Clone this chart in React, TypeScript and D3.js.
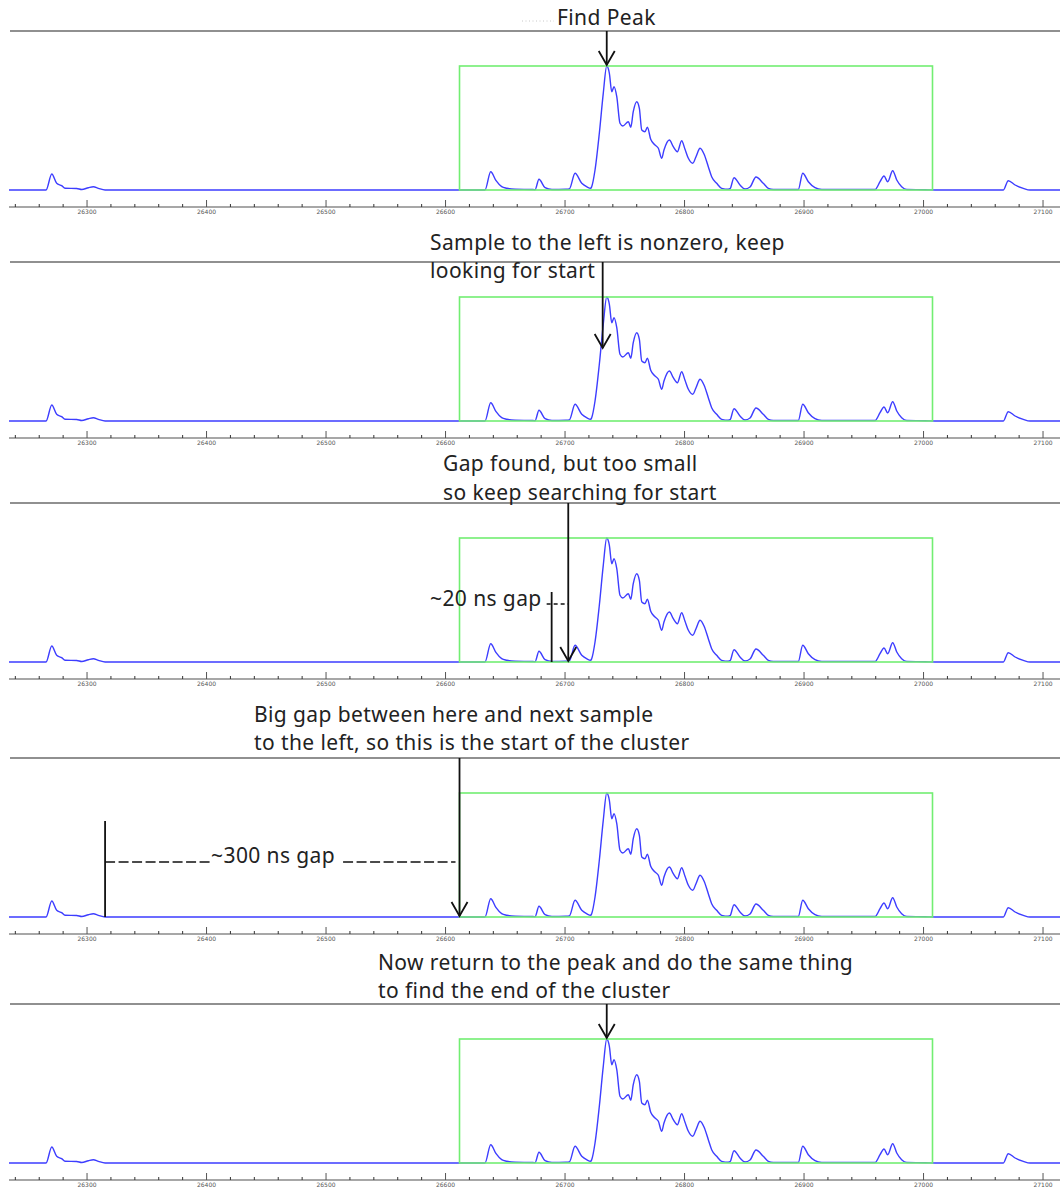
import React from "react";
import * as d3 from "d3";

// Digitised waveform: sample time (ns) and amplitude (ADC units above baseline)
const timeNs = [
  26234.7, 26265.7, 26270.5, 26274.6, 26278.8, 26281.6, 26291.4, 26295.6, 26301.1, 26305.3,
  26309.5, 26315.1, 26633.0, 26637.8, 26642.3, 26647.0, 26651.2, 26658.2, 26673.2, 26674.9,
  26678.2, 26683.3, 26689.1, 26700.8, 26703.6, 26708.4, 26714.0, 26718.1, 26721.5, 26722.3,
  26725.1, 26728.7, 26732.0, 26734.9, 26737.1, 26739.1, 26741.0, 26743.3, 26746.0, 26748.3,
  26753.0, 26755.0, 26757.1, 26760.0, 26762.2, 26764.2, 26766.9, 26768.9, 26771.7, 26775.3,
  26778.1, 26780.9, 26782.8, 26787.3, 26790.6, 26794.0, 26797.6, 26800.4, 26803.2, 26806.9,
  26809.6, 26813.0, 26816.3, 26819.9, 26822.7, 26826.9, 26831.1, 26836.6, 26838.1, 26841.4,
  26846.4, 26850.6, 26854.8, 26859.8, 26865.9, 26870.1, 26874.3, 26895.2, 26898.9, 26903.6,
  26909.2, 26914.8, 26959.4, 26963.6, 26966.9, 26970.0, 26974.2, 26977.6, 26981.7, 26985.9,
  27001.2, 27009.6, 27066.8, 27070.9, 27076.6, 27083.5, 27089.1, 27114.2,
];
const amplitude = [
  0, 0, 16, 6.7, 4.3, 1.7, 1.5, 0.5, 2.3, 3.3,
  1.7, 0, 0, 18.3, 9.3, 3.3, 1.7, 0.7, 0.5, 0.3,
  10.7, 2.3, 0.5, 0.7, 1, 16.7, 6.7, 3.3, 1.7, 3.3,
  20, 56.7, 96.7, 124, 116.7, 98.3, 103.3, 93.3, 66.7, 64,
  68.3, 62.7, 78.3, 88.3, 81.7, 60, 58.3, 62.7, 50.7, 45,
  41.7, 31.7, 40, 50, 43.3, 38.3, 49.3, 40.7, 31.7, 26.7,
  33.3, 41.7, 36, 23.3, 13.3, 6.7, 1.7, 0.7, 1.3, 12.3,
  5, 1, 3, 13, 6.7, 1.7, 0.5, 0.5, 16.7, 8.3,
  2.3, 0.5, 0.5, 8.3, 14, 8.3, 19.3, 10, 3.3, 0.5,
  0.3, 0, 0, 9.3, 5, 1.7, 0, 0,
];

const tickValues = [26300, 26400, 26500, 26600, 26700, 26800, 26900, 27000, 27100];
const minorTickStep = 20;

// Cluster window found by the search, and its peak
const clusterStart = 26611.7;
const clusterEnd = 27007.5;
const peakTime = 26734.9;
const peakAmplitude = 124;

const captions = [
  ["Find Peak"],
  ["Sample to the left is nonzero, keep", "looking for start"],
  ["Gap found, but too small", "so keep searching for start"],
  ["Big gap between here and next sample", "to the left, so this is the start of the cluster"],
  ["Now return to the peak and do the same thing", "to find the end of the cluster"],
];

// Where each step's arrow points (time, amplitude)
const arrowTimes = [peakTime, 26731.5, 26702.7, clusterStart, peakTime];
const arrowAmps = [peakAmplitude, 72, 0, 0, peakAmplitude];

// Gap markers: panel index, from time, to time, label
const gapPanels = [2, 3];
const gapFrom = [26688.8, 26315.1];
const gapTo = [26702.7, clusterStart];
const gapLabels = ["~20 ns gap", "~300 ns gap"];

// Page layout
const W = 1060;
const H = 1187;
const panelTop = [31, 262, 503, 758, 1004];
const captionX = [557, 430, 443, 254, 378];
const captionDy = [[-6], [-12, 16], [-32, -3], [-36, -8], [-34, -6]];
const boxTopOffset = 35;
const baselineOffset = 159;
const axisOffset = 176;

const FONT = "'Noto Sans', 'Open Sans', sans-serif";
const CAPTION_SIZE = 21;
const CAPTION_SPACING = 0.4;

const x = d3.scaleLinear().domain([26234.7, 27114.2]).range([9, W]);
const minorTicks = d3.range(26240, 27114, minorTickStep).filter((t) => t % 100 !== 0);
const samples = timeNs.map((t, i) => [t, amplitude[i]] as [number, number]);

function Arrow({ xp, y1, y2 }: { xp: number; y1: number; y2: number }) {
  return (
    <g stroke="#111" strokeWidth={1.8} fill="none">
      <line x1={xp} x2={xp} y1={y1} y2={y2} />
      <polyline points={`${xp - 8},${y2 - 14} ${xp},${y2} ${xp + 8},${y2 - 14}`} />
    </g>
  );
}

function Caption({ x: tx, y: ty, text, anchor }: { x: number; y: number; text: string; anchor?: string }) {
  return (
    <text
      x={tx}
      y={ty}
      fontSize={CAPTION_SIZE}
      letterSpacing={CAPTION_SPACING}
      fill="#222"
      stroke="none"
      textAnchor={anchor || "start"}
      fontFamily={FONT}
    >
      {text}
    </text>
  );
}

function Panel({ idx }: { idx: number }) {
  const top = panelTop[idx];
  const y = d3
    .scaleLinear()
    .domain([0, peakAmplitude])
    .range([top + baselineOffset, top + boxTopOffset]);
  const line = d3
    .line<[number, number]>()
    .x((d) => x(d[0]))
    .y((d) => y(d[1]))
    .curve(d3.curveMonotoneX);
  const axisY = top + axisOffset;
  const gi = gapPanels.indexOf(idx);
  const ax = x(arrowTimes[idx]);
  const ay = y(arrowAmps[idx]) - 1;

  return (
    <g>
      {/* step rule */}
      <line x1={10} x2={W} y1={top} y2={top} stroke="#222" strokeWidth={1.2} />

      {/* waveform */}
      <path d={line(samples) || ""} fill="none" stroke="#3d3dff" strokeWidth={1.4} />

      {/* cluster window */}
      <rect
        x={x(clusterStart)}
        y={y(peakAmplitude)}
        width={x(clusterEnd) - x(clusterStart)}
        height={y(0) - y(peakAmplitude)}
        fill="none"
        stroke="#72ee72"
        strokeWidth={1.6}
      />

      {/* time axis */}
      <line x1={9} x2={W} y1={axisY} y2={axisY} stroke="#8a8a8a" strokeWidth={1.3} />
      {minorTicks.map((t) => (
        <line key={"m" + t} x1={x(t)} x2={x(t)} y1={axisY - 3} y2={axisY} stroke="#333" strokeWidth={1} />
      ))}
      {tickValues.map((t) => (
        <g key={"M" + t}>
          <line x1={x(t)} x2={x(t)} y1={axisY - 7} y2={axisY} stroke="#555" strokeWidth={1} />
          <text x={x(t)} y={axisY + 6.5} fontSize={6} fill="#555" textAnchor="middle" fontFamily="'DejaVu Sans', sans-serif">
            {t}
          </text>
        </g>
      ))}

      {/* caption */}
      {captions[idx].map((c, k) => (
        <Caption key={k} x={captionX[idx]} y={top + captionDy[idx][k]} text={c} />
      ))}
      {idx === 0 && (
        <line x1={522} x2={554} y1={top - 10} y2={top - 10} stroke="#c8c8c8" strokeWidth={1} strokeDasharray="1,2.5" />
      )}

      {/* gap marker */}
      {gi === 0 && (
        <g stroke="#111" fill="none">
          <line x1={x(gapFrom[gi])} x2={x(gapFrom[gi])} y1={top + 89} y2={y(0)} strokeWidth={1.8} />
          <line x1={x(gapFrom[gi]) - 5} x2={x(gapTo[gi])} y1={top + 101} y2={top + 101} strokeWidth={1.5} strokeDasharray="4,3" />
          <Caption x={x(gapFrom[gi]) - 10} y={top + 103} text={gapLabels[gi]} anchor="end" />
        </g>
      )}
      {gi === 1 && (
        <g stroke="#111" fill="none">
          <line x1={x(gapFrom[gi])} x2={x(gapFrom[gi])} y1={top + 63} y2={y(0)} strokeWidth={1.8} />
          <line x1={x(gapFrom[gi])} x2={x(gapFrom[gi]) + 105} y1={top + 104} y2={top + 104} strokeWidth={1.6} strokeDasharray="10,3.5" />
          <line x1={x(gapFrom[gi]) + 238} x2={x(gapTo[gi]) - 4} y1={top + 104} y2={top + 104} strokeWidth={1.6} strokeDasharray="10,3.5" />
          <Caption x={x(gapFrom[gi]) + 106} y={top + 105} text={gapLabels[gi]} />
        </g>
      )}

      {/* step arrow */}
      <Arrow xp={ax} y1={top} y2={ay} />
    </g>
  );
}

export default function App() {
  return (
    <div style={{ position: "absolute", left: 0, top: 0, width: W, height: H, background: "#fff" }}>
      <svg width={W} height={H} viewBox={`0 0 ${W} ${H}`} style={{ display: "block" }}>
        <rect width={W} height={H} fill="#fff" />
        {panelTop.map((_, i) => (
          <Panel key={i} idx={i} />
        ))}
      </svg>
    </div>
  );
}
